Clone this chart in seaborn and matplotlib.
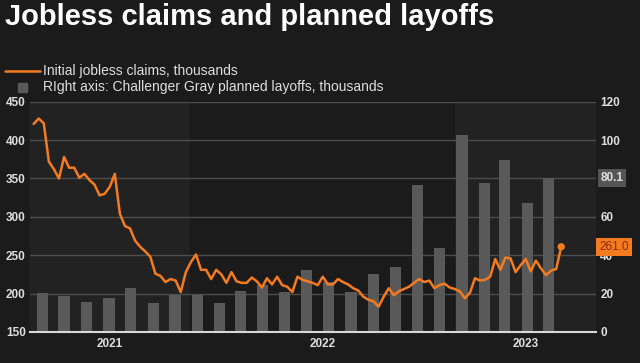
import matplotlib
matplotlib.use("Agg")
import matplotlib.pyplot as plt
import matplotlib.dates as mdates
import matplotlib.transforms as mtransforms
from matplotlib.lines import Line2D
from matplotlib.patches import Rectangle
import seaborn as sns
import numpy as np
import pandas as pd

# ---------------- data ----------------
title = "Jobless claims and planned layoffs"
legend_line = "Initial jobless claims, thousands"
legend_bar = "RIght axis: Challenger Gray planned layoffs, thousands"
year_labels = ["2021", "2022", "2023"]

# weekly initial jobless claims (thousands), weeks ending ~ Jun 2021 .. Jun 3 2023
claims = [
    421, 428, 422, 372, 362, 350, 378, 364, 364, 351,
    356, 348, 342, 328, 330, 339, 356, 304, 288, 285,
    269, 261, 255, 248, 226, 223, 215, 219, 217, 202,
    228, 241, 251, 231, 231,
    219, 231, 225, 214, 228, 216, 214, 214, 221, 216,
    208, 220, 212, 222, 211, 209, 202, 222, 218, 216,
    214, 211, 222, 212, 212, 219, 215, 212, 207, 204,
    196, 192, 190, 183, 196, 207, 198, 203, 206, 209,
    214, 219, 215, 217, 207, 211, 213, 208, 206, 203,
    194, 201, 220, 217, 218, 222, 245, 231, 247, 246,
    228, 237, 245, 229, 243, 233, 224, 230, 232, 261,
]
claims_last_week = "2023-05-28"

# monthly Challenger Gray planned layoffs (thousands), Jun 2021 .. May 2023
layoff_months = pd.date_range("2021-06-01", "2023-05-01", freq="MS")
layoffs = [20.5, 18.9, 15.7, 17.9, 22.8, 14.9, 19.1, 19.1, 15.2, 21.4,
           24.3, 20.7, 32.5, 25.8, 20.8, 30.0, 33.8, 76.8, 43.7, 102.9,
           77.8, 89.7, 67.0, 80.1]

left_ticks = [150, 200, 250, 300, 350, 400, 450]
right_ticks = [0, 20, 40, 60, 80, 100, 120]
right_tick_labels = ["0", "20", "40", "60", "", "100", "120"]  # 80 is hidden under the 80.1 box

# ---------------- style ----------------
BG = "#1b1b1b"
SHADE = "#222222"
GRID = "#4d4d4d"
BAR = "#595959"
ORANGE = "#f47b20"
TXT = "#dedede"

sns.set_theme(style="dark")
plt.rcParams["font.family"] = ["Liberation Sans", "DejaVu Sans"]

W, H = 640, 363
fig = plt.figure(figsize=(W / 100, H / 100), dpi=100, facecolor=BG)
x0, x1, ytop, ybot = 30, 596, 101.7, 332
ax = fig.add_axes([x0 / W, 1 - ybot / H, (x1 - x0) / W, (ybot - ytop) / H])
ax.set_facecolor(BG)

line_dates = pd.date_range(end=claims_last_week, periods=len(claims), freq="7D")
line_x = mdates.date2num(line_dates)
bar_x = mdates.date2num(layoff_months + pd.Timedelta(days=10))

xlim = (mdates.date2num(pd.Timestamp("2021-05-25")), mdates.date2num(pd.Timestamp("2023-07-15")))
j22 = mdates.date2num(pd.Timestamp("2022-01-01"))
j23 = mdates.date2num(pd.Timestamp("2023-01-01"))

# year shading
ax.axvspan(xlim[0], j22, color=SHADE, lw=0, zorder=0)
ax.axvspan(j23, xlim[1], color=SHADE, lw=0, zorder=0)

# bars (right axis)
sns.barplot(x=bar_x, y=layoffs, native_scale=True, width=0.55, color=BAR,
            saturation=1, linewidth=0, ax=ax, orient="x", zorder=2)
ax.set_ylim(0, 120)
ax.set_yticks(right_ticks)
ax.set_yticklabels(right_tick_labels)
ax.set_axisbelow(True)
ax.yaxis.grid(True, color=GRID, lw=1)
ax.xaxis.grid(False)

# line (left axis)
axl = ax.twinx()
axl.patch.set_visible(False)
sns.lineplot(x=line_x, y=claims, ax=axl, color=ORANGE, linewidth=1.8, zorder=4)
sns.scatterplot(x=[line_x[-1]], y=[claims[-1]], ax=axl, color=ORANGE, s=28,
                edgecolor="none", zorder=5)
axl.set_ylim(150, 450)
axl.set_yticks(left_ticks)
axl.grid(False)

ax.set_xlim(*xlim)

# axis sides
ax.yaxis.tick_right()
axl.yaxis.tick_left()
for a in (ax, axl):
    for s in a.spines.values():
        s.set_visible(False)
    a.set_xlabel("")
    a.set_ylabel("")
ax.spines["bottom"].set_visible(True)
ax.spines["bottom"].set_color("#d8d8d8")
ax.spines["bottom"].set_linewidth(1.5)

ax.tick_params(axis="y", length=0, pad=3, labelsize=8.5, labelcolor=TXT)
axl.tick_params(axis="y", length=0, pad=3, labelsize=8.5, labelcolor=TXT)
for lab in ax.get_yticklabels() + axl.get_yticklabels():
    lab.set_fontweight("bold")

centers = [(xlim[0] + j22) / 2, (j22 + j23) / 2, (j23 + xlim[1]) / 2]
ax.set_xticks(centers)
ax.set_xticklabels(year_labels, fontweight="bold")
ax.tick_params(axis="x", length=0, pad=4, labelsize=8.5, labelcolor=TXT)

# value labels on the right
tr_r = mtransforms.blended_transform_factory(ax.transAxes, ax.transData)
ax.text(1.008, layoffs[-1], f"{layoffs[-1]:.1f}", transform=tr_r, va="center", ha="left",
        fontsize=8.5, fontweight="bold", color=TXT, zorder=10, clip_on=False,
        bbox=dict(boxstyle="square,pad=0.25", fc="#555555", ec="none"))
tr_l = mtransforms.blended_transform_factory(axl.transAxes, axl.transData)
axl.text(1.006, claims[-1], f"{claims[-1]:.1f}", transform=tr_l, va="center", ha="left",
         fontsize=8.5, color="#8a2a00", zorder=10, clip_on=False,
         bbox=dict(boxstyle="square,pad=0.25", fc=ORANGE, ec="none"))

# title and legend
fig.text(5 / W, 1 - 17 / H, title, fontsize=21, fontweight="bold", color="white",
         va="center", ha="left")
fig.add_artist(Line2D([5 / W, 40 / W], [1 - 71 / H, 1 - 71 / H], color=ORANGE, lw=1.8,
                      transform=fig.transFigure))
fig.text(43 / W, 1 - 71 / H, legend_line, fontsize=10, color=TXT, va="center", ha="left")
fig.add_artist(Rectangle((18 / W, 1 - 92 / H), 9 / W, 9 / H, color=BAR,
                         transform=fig.transFigure))
fig.text(43 / W, 1 - 87 / H, legend_bar, fontsize=10, color=TXT, va="center", ha="left")

fig.savefig("out.png", dpi=100, facecolor=BG)
